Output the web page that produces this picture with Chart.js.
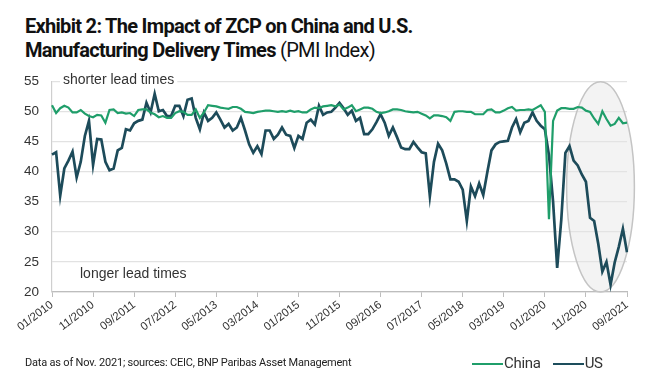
<!DOCTYPE html>
<html>
<head>
<meta charset="utf-8">
<script src="https://cdn.jsdelivr.net/npm/chart.js@4.4.1/dist/chart.umd.min.js"></script>
<style>
  body { margin: 0; background: #fff; width: 666px; height: 379px; overflow: hidden; position: relative;
         font-family: Roboto, "Liberation Sans", sans-serif; color: #111; }
  .title { position: absolute; left: 25px; top: 14px; font-size: 20px; line-height: 24px; letter-spacing: -0.7px; }
  .title b { font-weight: bold; }
  .src { position: absolute; left: 25px; top: 356px; font-size: 11px; letter-spacing: -0.2px; color: #222; }
  .legend { position: absolute; left: 472px; top: 354px; font-size: 15px; letter-spacing: -0.3px; color: #333; }
  .legend span.sw { display: inline-block; width: 31px; height: 2px; vertical-align: middle; margin-right: 1px; }
  #wrap { position: absolute; left: 0; top: 60px; width: 666px; height: 300px; }
</style>
</head>
<body>
<div class="title"><b>Exhibit 2: The Impact of ZCP on China and U.S.</b><br><b>Manufacturing Delivery Times</b> (PMI Index)</div>
<div id="wrap"><canvas id="chart"></canvas></div>
<div class="src">Data as of Nov. 2021; sources: CEIC, BNP Paribas Asset Management</div>
<div class="legend"><span class="sw" style="background:#1f9e6a"></span>China<span style="display:inline-block;width:12px"></span><span class="sw" style="background:#1d4d5c"></span>US</div>
<script>
// monthly, 01/2010 .. 09/2021
const startYear = 2010;
const nMonths = 141;
const months = [];
for (let i = 0; i < nMonths; i++) {
  const m = (i % 12) + 1;
  const y = startYear + Math.floor(i / 12);
  months.push((m < 10 ? '0' + m : '' + m) + '/' + y);
}
const tickLabels = ['01/2010', '11/2010', '09/2011', '07/2012', '05/2013', '03/2014', '01/2015', '11/2015',
  '09/2016', '07/2017', '05/2018', '03/2019', '01/2020', '11/2020', '09/2021'];

const china = [
  51.0, 49.7, 50.5, 50.9, 50.6, 49.8, 49.8, 50.2, 49.6, 49.2,
  49.0, 49.4, 49.3, 48.1, 50.2, 50.3, 49.7, 49.8, 49.6, 49.7,
  49.2, 50.2, 50.3, 50.3, 49.8, 49.5, 49.0, 49.2, 48.9, 48.9,
  49.7, 50.0, 49.9, 49.4, 49.4, 50.3, 48.9, 49.8, 51.0, 50.9,
  50.8, 50.6, 50.5, 50.4, 50.7, 50.7, 50.4, 49.9, 49.8, 49.7,
  49.9, 50.0, 50.1, 50.1, 50.0, 49.9, 50.0, 49.9, 50.1, 49.9,
  50.0, 49.8, 49.8, 50.3, 50.6, 50.5, 50.8, 50.9, 51.0, 50.8,
  51.1, 50.3, 50.6, 51.0, 50.0, 50.3, 50.6, 50.6, 50.4, 49.9,
  49.7, 49.8, 50.0, 50.3, 50.3, 50.2, 50.0, 49.9, 49.8, 49.9,
  49.6, 49.3, 48.8, 49.3, 49.3, 49.2, 49.0, 48.4, 49.9, 50.0,
  50.0, 49.9, 49.9, 49.5, 49.5, 49.5, 50.2, 50.3, 49.8, 49.8,
  50.1, 50.5, 50.7, 50.1, 50.2, 50.2, 50.3, 50.2, 50.6, 51.0,
  49.9, 32.1, 48.4, 50.1, 50.5, 50.5, 50.4, 50.4, 50.7, 50.6,
  50.1, 49.9, 48.8, 47.9, 50.0, 48.7, 47.6, 47.9, 48.9, 48.0,
  48.1
];
const us = [
  42.8, 43.2, 36.0, 40.5, 41.8, 43.3, 39.0, 41.6, 45.9, 48.4,
  41.1, 45.4, 45.3, 41.6, 40.2, 40.5, 43.5, 43.9, 47.0, 46.8,
  48.0, 48.4, 48.6, 51.4, 49.8, 52.9, 50.0, 50.2, 49.2, 49.2,
  50.9, 50.9, 49.2, 51.9, 52.1, 48.9, 47.0, 49.8, 48.4, 48.9,
  49.8, 48.6, 47.3, 47.9, 46.8, 47.3, 48.9, 46.8, 44.5, 43.1,
  44.2, 42.9, 46.8, 46.8, 45.4, 46.1, 47.3, 46.1, 45.9, 43.9,
  45.9, 45.4, 48.1, 48.6, 47.8, 50.9, 49.4, 49.8, 49.9, 50.6,
  51.4, 50.5, 49.4, 50.1, 48.4, 48.9, 46.2, 46.2, 47.0, 48.2,
  49.5, 48.1, 45.9, 47.3, 45.7, 44.0, 43.7, 43.7, 44.9, 44.0,
  43.2, 43.0, 35.9, 41.6, 44.6, 43.5, 41.3, 38.7, 38.7, 38.3,
  37.0, 31.8, 37.5, 35.9, 38.0, 36.1, 39.9, 43.5, 44.5, 44.9,
  45.0, 45.1, 47.3, 48.7, 46.5, 48.1, 48.4, 49.8, 48.4, 47.6,
  47.0, 42.7, 35.0, 24.0, 32.0, 43.1, 44.2, 41.8, 41.0, 39.5,
  38.3, 32.3, 31.8, 28.0, 23.4, 25.0, 21.2, 24.9, 27.5, 30.5,
  26.6
];

const chinaColor = '#1f9e6a';
const usColor = '#1d4b5a';

// highlighted period (ellipse) and the two notes
const highlight = { from: 125.3, to: 141.8, top: 54.9, bottom: 20.0 };

const extras = {
  id: 'extras',
  beforeDatasetsDraw(chart) {
    const { ctx, scales: { x, y } } = chart;
    const x0 = x.getPixelForValue(0), x1 = x.getPixelForValue(1);
    const step = x1 - x0;
    const l = x0 + highlight.from * step, r = x0 + highlight.to * step;
    const t = y.getPixelForValue(highlight.top), b = y.getPixelForValue(highlight.bottom);
    ctx.save();
    ctx.beginPath();
    ctx.ellipse((l + r) / 2, (t + b) / 2, (r - l) / 2, (b - t) / 2, 0, 0, Math.PI * 2);
    ctx.fillStyle = 'rgba(228,228,228,0.45)';
    ctx.fill();
    ctx.lineWidth = 1.5;
    ctx.strokeStyle = '#c4c4c4';
    ctx.stroke();

    ctx.font = '14px "Liberation Sans", Arial, sans-serif';
    ctx.textBaseline = 'middle';
    const top = chart.chartArea.top;
    const txt1 = 'shorter lead times';
    const w1 = ctx.measureText(txt1).width;
    ctx.fillStyle = '#fff';
    ctx.fillRect(chart.chartArea.left + 8, top - 7, w1 + 6, 13);
    ctx.fillStyle = '#333';
    ctx.fillText(txt1, chart.chartArea.left + 11, top - 1);
    ctx.fillText('longer lead times', chart.chartArea.left + 28, y.getPixelForValue(23));
    ctx.restore();
  }
};

new Chart(document.getElementById('chart'), {
  type: 'line',
  data: {
    labels: months,
    datasets: [
      { label: 'China', data: china, borderColor: chinaColor, borderWidth: 2.2, pointRadius: 0, tension: 0 },
      { label: 'US', data: us, borderColor: usColor, borderWidth: 2.7, pointRadius: 0, tension: 0 }
    ]
  },
  options: {
    responsive: true,
    maintainAspectRatio: false,
    animation: false,
    layout: { padding: { left: 0, right: 39, top: 18, bottom: 0 } },
    plugins: { legend: { display: false }, tooltip: { enabled: false } },
    scales: {
      x: {
        offset: false,
        afterFit(s) { s.height = 68; },
        grid: { drawOnChartArea: false, drawTicks: true, tickLength: 5, color: '#bdbdbd' },
        border: { color: '#bdbdbd', width: 1.2 },
        ticks: {
          autoSkip: false, maxRotation: 37, minRotation: 37, padding: 1,
          color: '#333', font: { family: '"Liberation Sans", Arial, sans-serif', size: 11.5 },
          callback(v, i) { const lab = months[i]; return tickLabels.includes(lab) ? lab : null; }
        }
      },
      y: {
        min: 20, max: 55,
        afterFit(s) { s.width = 52; },
        grid: { color: '#e2e2e2', drawTicks: false, lineWidth: 1.2 },
        border: { color: '#cfcfcf', width: 1.2 },
        ticks: {
          stepSize: 5, padding: 13, color: '#333',
          font: { family: '"Liberation Sans", Arial, sans-serif', size: 13.5 }
        }
      }
    }
  },
  plugins: [extras]
});
</script>
</body>
</html>
